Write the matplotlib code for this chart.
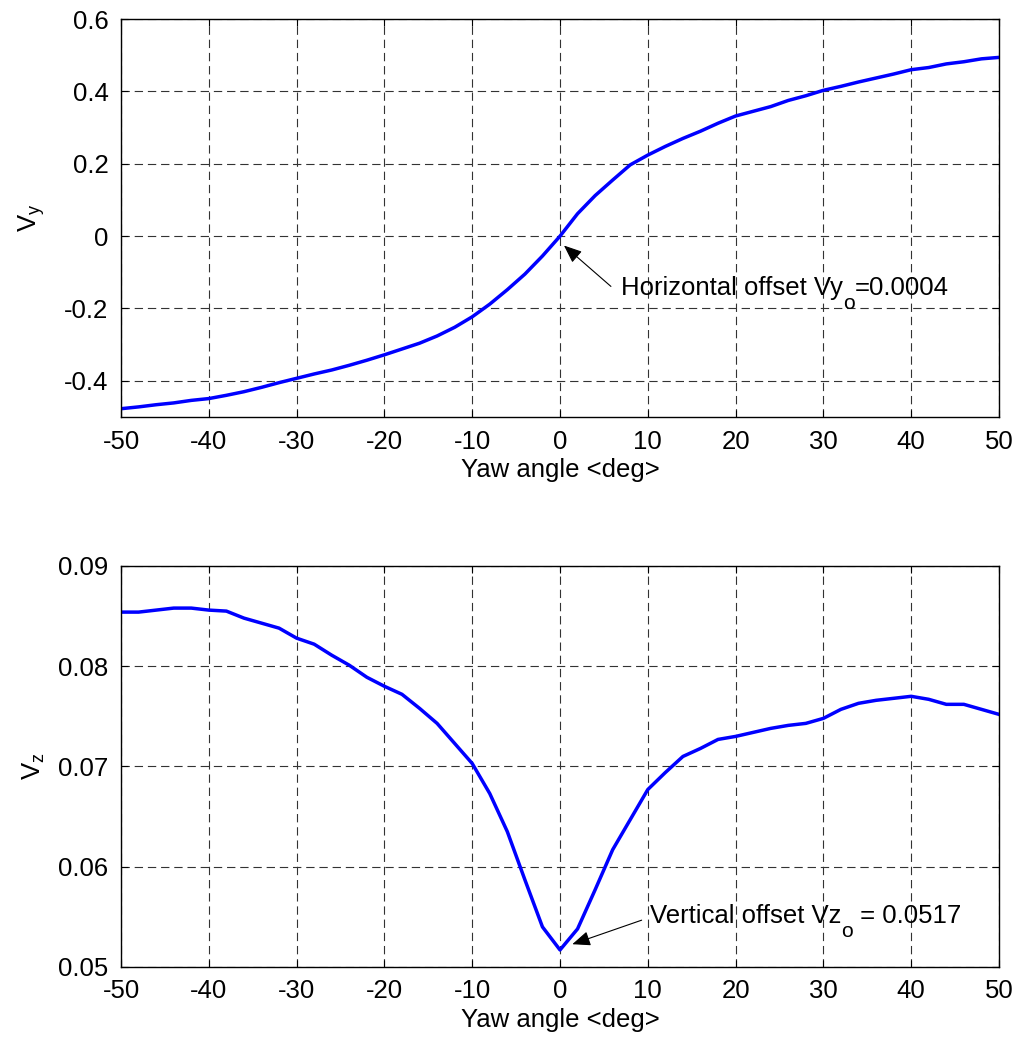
import numpy as np
import matplotlib
matplotlib.use('Agg')
import matplotlib.pyplot as plt

plt.rcParams['font.family'] = ['Liberation Sans', 'DejaVu Sans']
plt.rcParams['lines.scale_dashes'] = False
plt.rcParams['axes.unicode_minus'] = False
plt.rcParams['mathtext.fontset'] = 'custom'
plt.rcParams['mathtext.rm'] = 'Liberation Sans'

# Yaw angle samples (deg)
yaw = np.arange(-50, 51, 2)

# Horizontal component Vy
vy = [-0.477, -0.472, -0.466, -0.461, -0.454, -0.449, -0.440, -0.430, -0.418, -0.405,
      -0.393, -0.381, -0.370, -0.357, -0.343, -0.328, -0.312, -0.296, -0.276, -0.252,
      -0.223, -0.188, -0.148, -0.105, -0.055, 0.000, 0.062, 0.112, 0.155, 0.197,
      0.224, 0.248, 0.270, 0.290, 0.312, 0.332, 0.345, 0.358, 0.375, 0.388,
      0.403, 0.414, 0.426, 0.437, 0.448, 0.460, 0.466, 0.476, 0.482, 0.490, 0.494]

# Vertical component Vz
vz = [0.0854, 0.0854, 0.0856, 0.0858, 0.0858, 0.0856, 0.0855, 0.0848, 0.0843, 0.0838,
      0.0828, 0.0822, 0.0811, 0.0801, 0.0789, 0.0780, 0.0772, 0.0758, 0.0743, 0.0723,
      0.0703, 0.0673, 0.0635, 0.0587, 0.0540, 0.0517, 0.0538, 0.0577, 0.0617, 0.0647,
      0.0677, 0.0694, 0.0710, 0.0718, 0.0727, 0.0730, 0.0734, 0.0738, 0.0741, 0.0743,
      0.0748, 0.0757, 0.0763, 0.0766, 0.0768, 0.0770, 0.0767, 0.0762, 0.0762, 0.0757,
      0.0752]

xticks = np.arange(-50, 51, 10)
vy_ticks = [-0.4, -0.2, 0, 0.2, 0.4, 0.6]
vz_ticks = [0.05, 0.06, 0.07, 0.08, 0.09]

fs = 18.5
fig = plt.figure(figsize=(10.18, 10.41), dpi=100)
ax1 = fig.add_axes([0.1189, 0.5994, 0.8624, 0.3823])
ax2 = fig.add_axes([0.1189, 0.0711, 0.8624, 0.3852])


def style(ax):
    ax.set_xlim(-50, 50)
    ax.set_xticks(xticks)
    ax.grid(True, color='0.2', linestyle=(0, (6, 3.5)), linewidth=0.8)
    ax.tick_params(direction='in', top=True, right=True, length=5, width=0.8,
                   labelsize=fs, pad=9)
    for s in ax.spines.values():
        s.set_linewidth(1.0)
        s.set_color('k')
    ax.set_xlabel('Yaw angle <deg>', fontsize=fs, labelpad=3)


def sub_label(ax, x, y, head, sub, tail):
    # MATLAB-style subscript: nearly full size, dropped below the baseline
    t1 = ax.text(x, y, head, fontsize=fs, va='baseline', ha='left')
    t2 = ax.annotate(sub, xy=(1, y), xycoords=(t1, 'data'),
                     xytext=(0, -10), textcoords='offset points',
                     fontsize=fs * 0.82, va='baseline', ha='left')
    ax.annotate(tail, xy=(1, y), xycoords=(t2, 'data'),
                fontsize=fs, va='baseline', ha='left')


arrow = dict(arrowstyle='-|>,head_length=1.1,head_width=0.45',
             color='k', lw=0.8, shrinkA=0, shrinkB=0)

ax1.plot(yaw, vy, color='#0000ff', lw=2.5)
style(ax1)
ax1.set_ylim(-0.5, 0.6)
ax1.set_yticks(vy_ticks)
ax1.set_yticklabels(['-0.4', '-0.2', '0', '0.2', '0.4', '0.6'])
ax1.set_ylabel('V$_\\mathregular{y}$', fontsize=fs, labelpad=12)
ax1.annotate('', xy=(0.45, -0.026), xytext=(5.8, -0.139), arrowprops=arrow)
sub_label(ax1, 7.0, -0.164, 'Horizontal offset Vy', 'o', '=0.0004')

ax2.plot(yaw, vz, color='#0000ff', lw=2.5)
style(ax2)
ax2.set_ylim(0.05, 0.09)
ax2.set_yticks(vz_ticks)
ax2.set_yticklabels(['0.05', '0.06', '0.07', '0.08', '0.09'])
ax2.set_ylabel('V$_\\mathregular{z}$', fontsize=fs, labelpad=8)
ax2.annotate('', xy=(1.4, 0.05227), xytext=(9.3, 0.05467), arrowprops=arrow)
sub_label(ax2, 10.25, 0.05435, 'Vertical offset Vz', 'o', ' = 0.0517')

fig.savefig('out.png', dpi=100, facecolor='white')
